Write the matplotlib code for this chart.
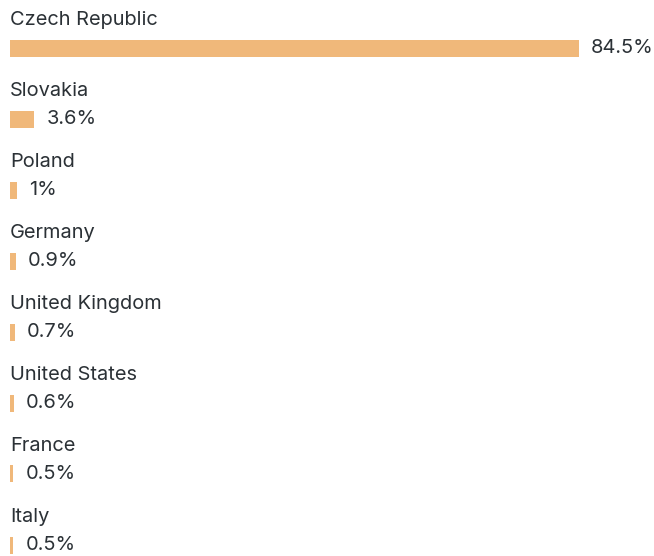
import matplotlib.pyplot as plt

countries = ["Czech Republic", "Slovakia", "Poland", "Germany", "United Kingdom",
             "United States", "France", "Italy"]
shares = [84.5, 3.6, 1, 0.9, 0.7, 0.6, 0.5, 0.5]
share_labels = ["84.5%", "3.6%", "1%", "0.9%", "0.7%", "0.6%", "0.5%", "0.5%"]

bar_color = "#F0B87A"
text_color = "#2B3136"
plt.rcParams["font.family"] = ["Inter", "DejaVu Sans"]

W, H, DPI = 654, 556, 100
px_per_unit = 569 / 84.5   # pixels per percent
row_px = 71                # vertical pitch of rows

fig = plt.figure(figsize=(W / DPI, H / DPI), dpi=DPI)
ax = fig.add_axes([0, 0, 1, 1])
ax.set_xlim(-10 / px_per_unit, (W - 10) / px_per_unit)
ax.set_ylim((H - 48) / row_px, -48 / row_px)
ax.axis("off")

rows = range(len(countries))
ax.barh(list(rows), shares, height=17 / row_px, color=bar_color, left=0)

pad = 12 / px_per_unit
for i, (name, val, lab) in enumerate(zip(countries, shares, share_labels)):
    ax.text(0, i - 28 / row_px, name, fontsize=14.4, color=text_color,
            va="center", ha="left")
    ax.text(val + pad, i, lab, fontsize=14.4, color=text_color,
            va="center", ha="left")

fig.savefig("out.png", dpi=DPI)
